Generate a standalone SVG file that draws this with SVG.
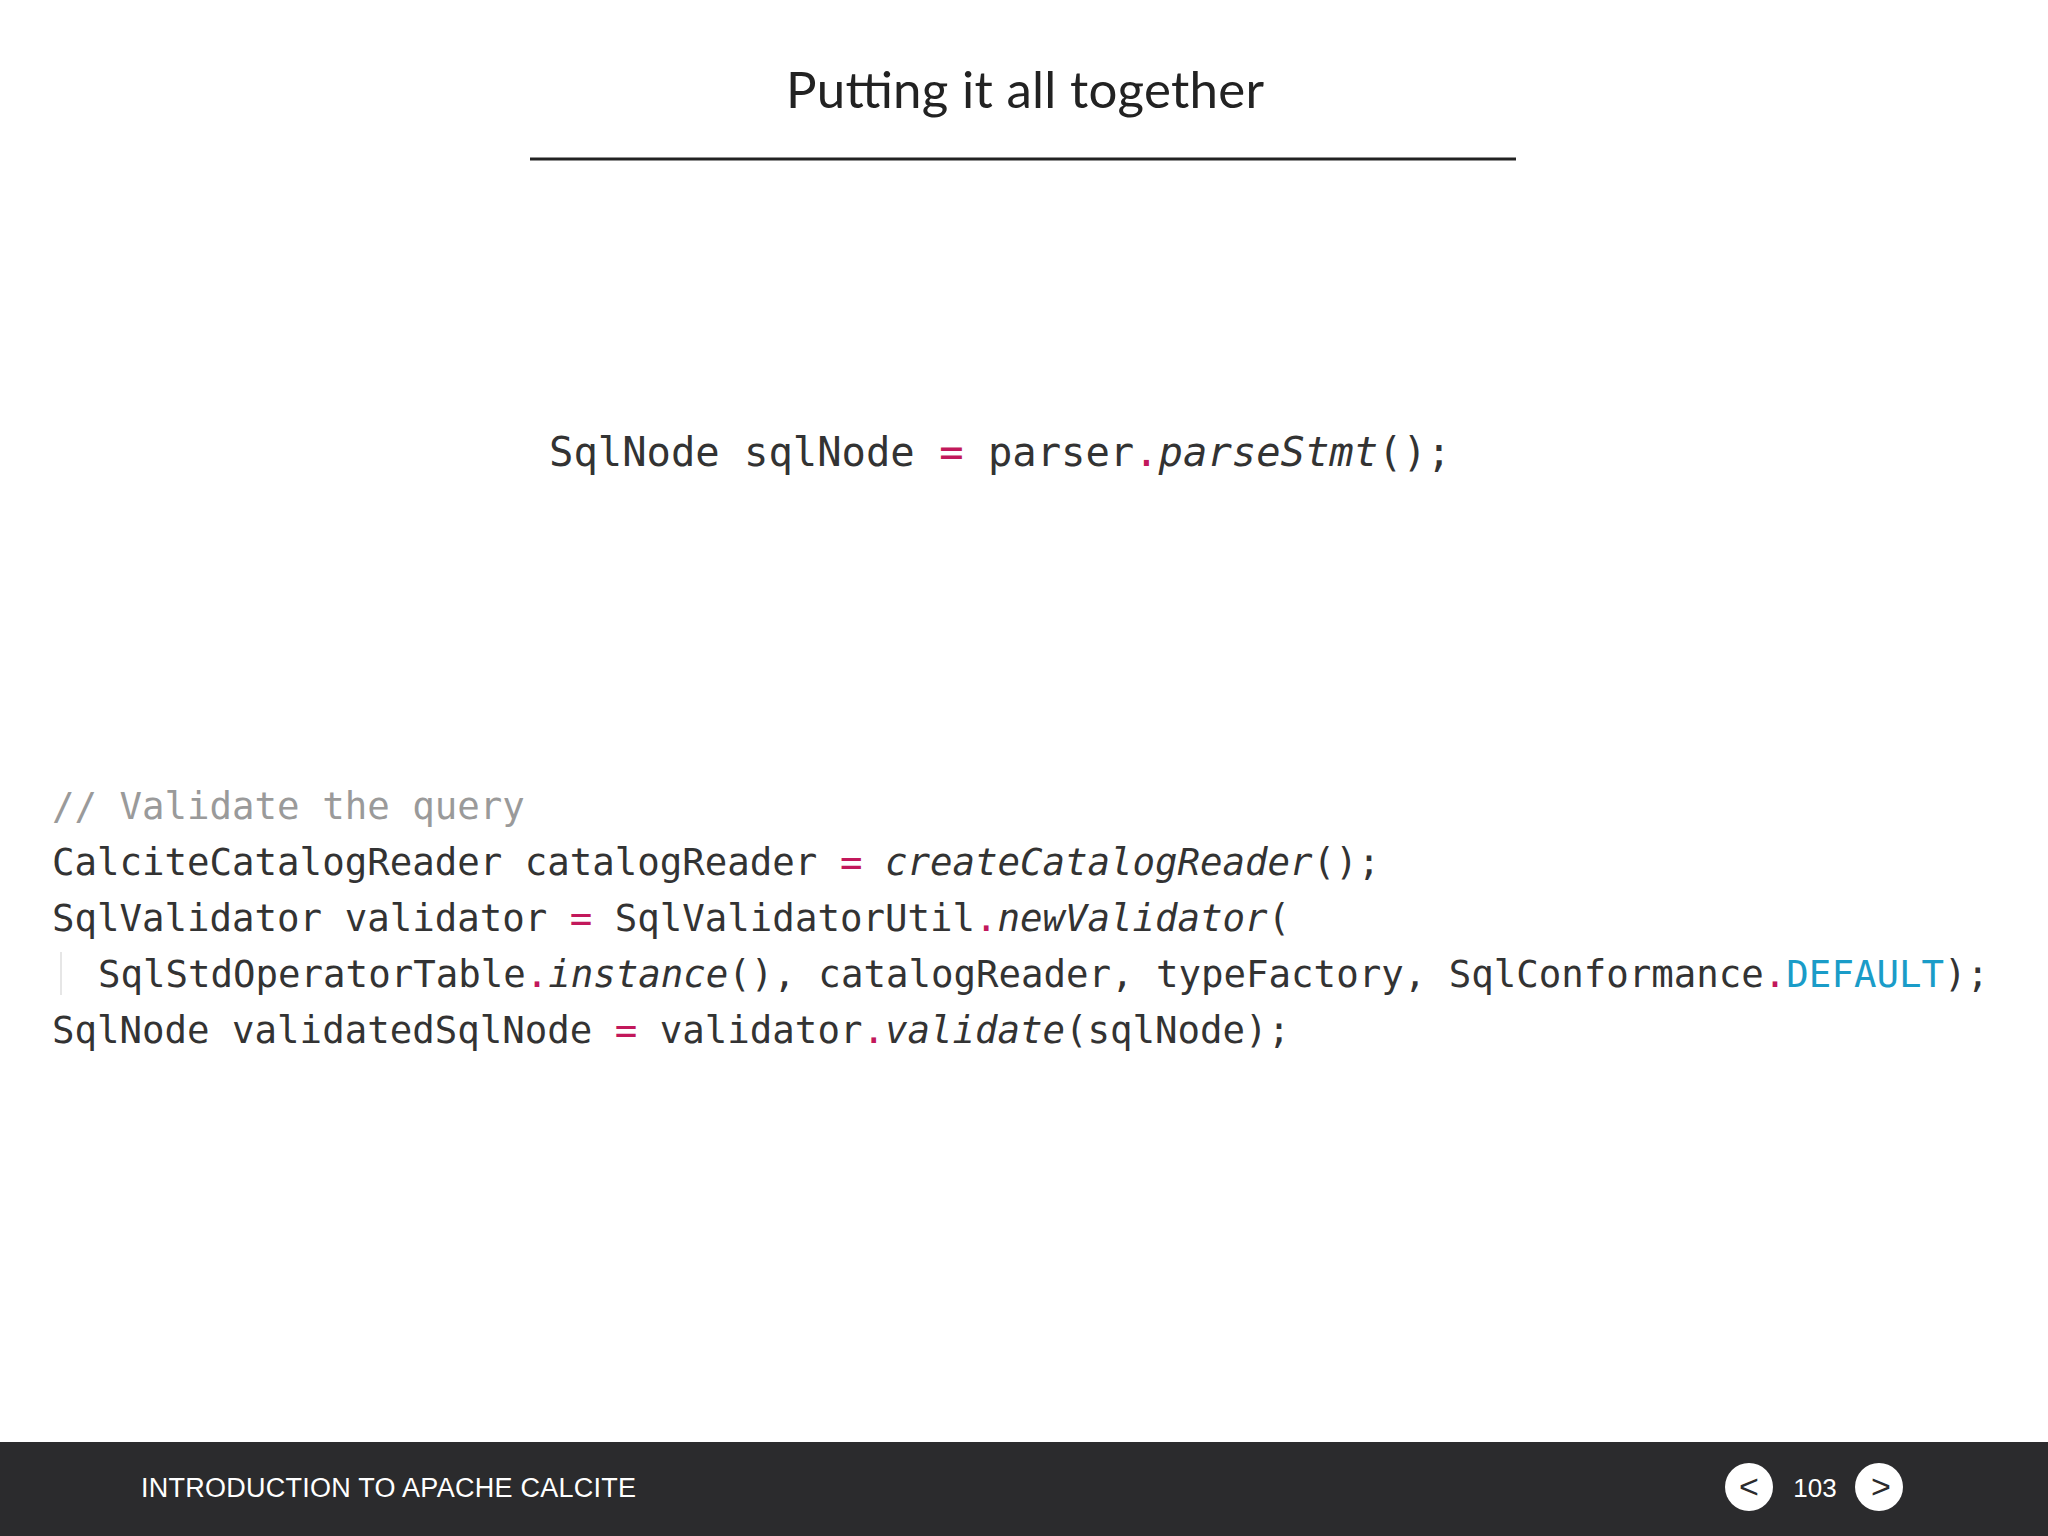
<svg xmlns="http://www.w3.org/2000/svg" width="2048" height="1536" viewBox="0 0 2048 1536">
<style>
.c{font-family:"DejaVu Sans Mono",monospace;fill:#333}
.p{fill:#c2185b}
.i{font-style:italic}
.k{fill:#1a9cc8}
</style>
<rect width="2048" height="1536" fill="#ffffff"/>
<g id="title">
<text x="1025" y="108" text-anchor="middle" font-family="Lato, sans-serif" font-size="51" fill="#222" textLength="478">Putting it all together</text>
<line x1="530" y1="159" x2="1516" y2="159" stroke="#222" stroke-width="3"/>
</g>
<g id="code1">
<text class="c" x="549" y="466" font-size="40.5" xml:space="preserve">SqlNode sqlNode <tspan class="p">=</tspan> parser<tspan class="p">.</tspan><tspan class="i">parseStmt</tspan>();</text>
</g>
<g id="code2" font-size="37.4">
<line x1="61" y1="952" x2="61" y2="995" stroke="#e6e6e6" stroke-width="2"/>
<text class="c" x="52" y="819" xml:space="preserve" style="fill:#9a9a9a">// Validate the query</text>
<text class="c" x="52" y="875" xml:space="preserve">CalciteCatalogReader catalogReader <tspan class="p">=</tspan> <tspan class="i">createCatalogReader</tspan>();</text>
<text class="c" x="52" y="931" xml:space="preserve">SqlValidator validator <tspan class="p">=</tspan> SqlValidatorUtil<tspan class="p">.</tspan><tspan class="i">newValidator</tspan>(</text>
<text class="c" x="98" y="987" xml:space="preserve">SqlStdOperatorTable<tspan class="p">.</tspan><tspan class="i">instance</tspan>(), catalogReader, typeFactory, SqlConformance<tspan class="p">.</tspan><tspan class="k">DEFAULT</tspan>);</text>
<text class="c" x="52" y="1043" xml:space="preserve">SqlNode validatedSqlNode <tspan class="p">=</tspan> validator<tspan class="p">.</tspan><tspan class="i">validate</tspan>(sqlNode);</text>
</g>
<g id="footer">
<rect x="0" y="1442" width="2048" height="94" fill="#2b2b2d"/>
<text x="141" y="1497" font-family="Liberation Sans, sans-serif" font-size="27" fill="#fff" textLength="495">INTRODUCTION TO APACHE CALCITE</text>
<circle cx="1749" cy="1487" r="24" fill="#fff"/>
<text x="1749" y="1498" text-anchor="middle" font-family="Liberation Sans, sans-serif" font-size="34" fill="#2b2b2d">&lt;</text>
<text x="1815" y="1497" text-anchor="middle" font-family="Liberation Sans, sans-serif" font-size="26" fill="#fff">103</text>
<circle cx="1879" cy="1487" r="24" fill="#fff"/>
<text x="1881" y="1498" text-anchor="middle" font-family="Liberation Sans, sans-serif" font-size="34" fill="#2b2b2d">&gt;</text>
</g>
</svg>
